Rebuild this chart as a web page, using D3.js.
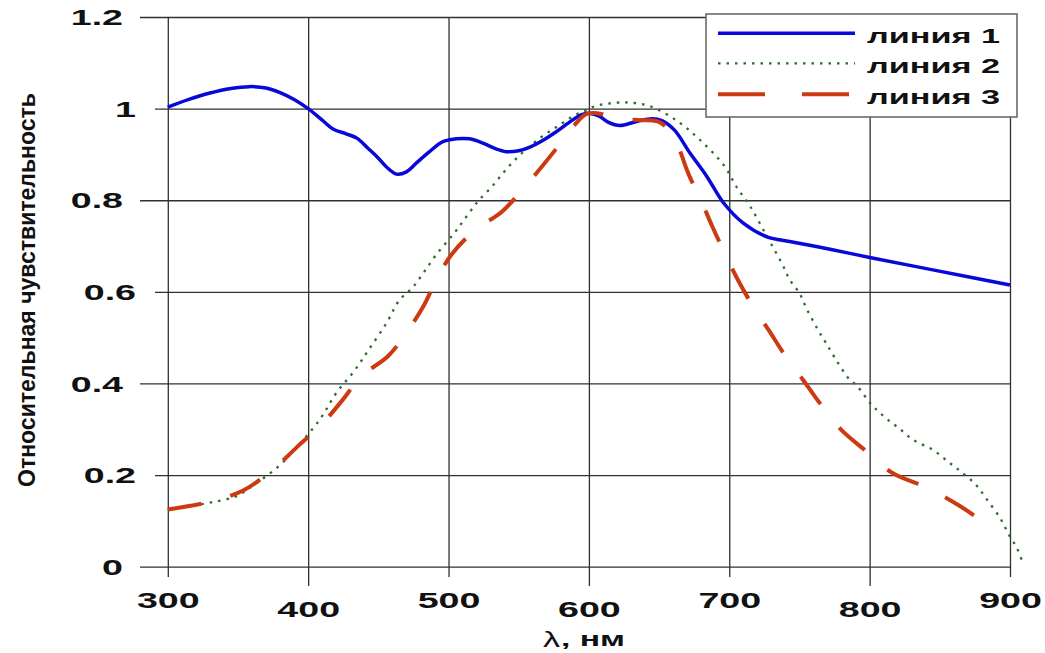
<!DOCTYPE html>
<html>
<head>
<meta charset="utf-8">
<script src="https://cdn.jsdelivr.net/npm/d3@7"></script>
<style>
  html, body { margin: 0; padding: 0; background: #fff; }
  svg { display: block; }
  text { font-family: "Liberation Sans", Arial, sans-serif; }
</style>
</head>
<body>
<svg id="chart" width="1045" height="653"></svg>
<script>
// Wavelength grid labels and sensitivity ticks
const xTicks = [300, 400, 500, 600, 700, 800, 900];
const yTicks = [0, 0.2, 0.4, 0.6, 0.8, 1, 1.2];
const yTickLabels = ["0", "0.2", "0.4", "0.6", "0.8", "1", "1.2"];

const seriesNames = ["линия 1", "линия 2", "линия 3"];

// линия 1
const line1Wl  = [300, 315, 330, 345, 358, 370, 380, 390, 400, 410, 418, 427, 435, 442, 449, 456, 463, 470, 477, 486, 496, 505, 515, 525, 533, 541, 550, 558, 568, 577, 586, 594, 600, 607, 614, 622, 634, 645, 652, 661, 672, 684, 696, 710, 727, 743, 762, 786, 800, 845, 900];
const line1Val = [1.003, 1.02, 1.034, 1.044, 1.048, 1.045, 1.035, 1.02, 1.0, 0.975, 0.955, 0.945, 0.935, 0.915, 0.895, 0.872, 0.857, 0.862, 0.881, 0.905, 0.928, 0.934, 0.934, 0.924, 0.913, 0.906, 0.908, 0.916, 0.932, 0.95, 0.97, 0.986, 0.99, 0.984, 0.97, 0.963, 0.972, 0.978, 0.974, 0.953, 0.903, 0.852, 0.794, 0.75, 0.72, 0.71, 0.699, 0.684, 0.675, 0.648, 0.615];

// линия 2
const line2Wl  = [300, 315, 330, 348, 363, 380, 389, 408, 420, 433, 443, 456, 465, 474, 482, 492, 504, 511, 518, 522, 531, 539, 547, 556, 567, 579, 590, 598, 605, 620, 629, 643, 662, 679, 696, 705, 715, 727, 738, 743, 750, 755, 763, 769, 775, 785, 791, 801, 811, 821, 831, 845, 856, 866, 876, 883, 893, 899, 905, 909];
const line2Val = [0.125, 0.132, 0.14, 0.153, 0.182, 0.222, 0.251, 0.32, 0.379, 0.428, 0.473, 0.533, 0.582, 0.608, 0.641, 0.684, 0.728, 0.757, 0.786, 0.801, 0.83, 0.86, 0.887, 0.913, 0.94, 0.964, 0.986, 0.996, 1.006, 1.013, 1.013, 1.006, 0.975, 0.932, 0.877, 0.83, 0.786, 0.72, 0.659, 0.627, 0.597, 0.564, 0.518, 0.488, 0.457, 0.411, 0.395, 0.355, 0.326, 0.302, 0.277, 0.255, 0.229, 0.205, 0.178, 0.149, 0.106, 0.071, 0.04, 0.009];

// линия 3
const line3Wl  = [300, 329, 354, 376, 392, 410, 424, 438, 457, 470, 482, 491, 502, 519, 538, 554, 568, 582, 590, 598, 606, 615, 623, 635, 649, 657, 664, 671, 680, 688, 697, 706, 717, 728, 740, 753, 766, 780, 798, 816, 842, 864, 887];
const line3Val = [0.125, 0.141, 0.167, 0.215, 0.261, 0.312, 0.362, 0.416, 0.46, 0.511, 0.568, 0.624, 0.681, 0.735, 0.775, 0.828, 0.879, 0.933, 0.965, 0.988, 0.99, 0.983, 0.977, 0.975, 0.972, 0.953, 0.914, 0.857, 0.799, 0.742, 0.683, 0.627, 0.568, 0.517, 0.46, 0.406, 0.351, 0.298, 0.251, 0.205, 0.171, 0.133, 0.085];

const svg = d3.select("#chart");
svg.append("rect").attr("width", 1045).attr("height", 653).attr("fill", "#fff");

const x = d3.scaleLinear().domain([300, 900]).range([167.8, 1010]);
const y = d3.scaleLinear().domain([0, 1.2]).range([566.7, 17]);

const gridColor = "#303030";
const stretch = 1.75;
const fontSize = 21.5;

// Vertical grid lines with staggered tick labels
function xAxisGroup(values, bottom) {
  const g = svg.append("g")
    .attr("transform", `translate(0,${bottom})`)
    .call(d3.axisBottom(x).tickValues(values).tickSize(-(bottom - y(1.2))).tickFormat(d3.format("d")));
  g.select(".domain").remove();
  g.selectAll(".tick line").attr("stroke", gridColor).attr("stroke-width", 1.3);
  g.selectAll(".tick text")
    .attr("y", 0).attr("dy", 0).attr("x", 0)
    .attr("transform", `translate(0,31) scale(${stretch},1)`)
    .attr("fill", "#111")
    .attr("font-size", fontSize).attr("font-weight", "bold")
    .attr("font-family", "Liberation Sans, Arial, sans-serif");
}
xAxisGroup(xTicks.filter((d, i) => i % 2 === 0), 577);
xAxisGroup(xTicks.filter((d, i) => i % 2 === 1), 586);

// Horizontal grid lines with staggered tick labels
function yAxisGroup(values, left, pad) {
  const g = svg.append("g")
    .attr("transform", `translate(${left},0)`)
    .call(d3.axisLeft(y).tickValues(values).tickSize(-(x(900) - left))
      .tickFormat(d => yTickLabels[yTicks.indexOf(d)]));
  g.select(".domain").remove();
  g.selectAll(".tick line").attr("stroke", gridColor).attr("stroke-width", 1.3);
  g.selectAll(".tick text")
    .attr("x", -pad / stretch).attr("dy", "0.36em")
    .attr("transform", `scale(${stretch},1)`)
    .attr("fill", "#111")
    .attr("font-size", fontSize).attr("font-weight", "bold")
    .attr("font-family", "Liberation Sans, Arial, sans-serif");
}
yAxisGroup([0, 0.4, 0.8, 1.2], 140, 17);
yAxisGroup([0.2, 0.6, 1], 155, 19);

// Curves
const lineGen = d3.line().x(d => x(d[0])).y(d => y(d[1])).curve(d3.curveCatmullRom.alpha(0.5));
const zip = (a, b) => a.map((v, i) => [v, b[i]]);

const styles = [
  { color: "#0808d8", width: 3.5, dash: null },
  { color: "#2b6e2b", width: 2.3, dash: "2.5,6" },
  { color: "#cc3a12", width: 4, dash: "34,30" }
];

svg.append("path").datum(zip(line2Wl, line2Val))
  .attr("d", lineGen).attr("fill", "none")
  .attr("stroke", styles[1].color).attr("stroke-width", styles[1].width)
  .attr("stroke-dasharray", styles[1].dash);

svg.append("path").datum(zip(line1Wl, line1Val))
  .attr("d", lineGen).attr("fill", "none")
  .attr("stroke", styles[0].color).attr("stroke-width", styles[0].width)
  .attr("stroke-linejoin", "round");

svg.append("path").datum(zip(line3Wl, line3Val))
  .attr("d", lineGen).attr("fill", "none")
  .attr("stroke", styles[2].color).attr("stroke-width", styles[2].width)
  .attr("stroke-dasharray", styles[2].dash);

// Legend
const legend = svg.append("g");
legend.append("rect")
  .attr("x", 706).attr("y", 14).attr("width", 311).attr("height", 103)
  .attr("fill", "#fff").attr("stroke", "#6a6a6a").attr("stroke-width", 1.6);
const legendRows = [33.3, 63.3, 94.3];
const legendDash = [null, "2.5,6", "47,37"];
seriesNames.forEach((name, i) => {
  legend.append("line")
    .attr("x1", 718).attr("x2", 855)
    .attr("y1", legendRows[i]).attr("y2", legendRows[i])
    .attr("stroke", styles[i].color).attr("stroke-width", styles[i].width)
    .attr("stroke-dasharray", legendDash[i]);
  legend.append("text")
    .attr("x", 867).attr("y", legendRows[i] + 9.6)
    .attr("font-size", 21).attr("font-weight", "bold").attr("fill", "#111")
    .attr("textLength", 133).attr("lengthAdjust", "spacingAndGlyphs")
    .text(name);
});

// Axis titles
svg.append("text")
  .attr("transform", "translate(35,290) rotate(-90)")
  .attr("text-anchor", "middle")
  .attr("font-size", 23).attr("font-weight", "bold").attr("fill", "#111")
  .attr("textLength", 394).attr("lengthAdjust", "spacingAndGlyphs")
  .text("Относительная чувствительность");

svg.append("text")
  .attr("x", 543).attr("y", 647)
  .attr("font-size", 22).attr("fill", "#111")
  .attr("textLength", 17).attr("lengthAdjust", "spacingAndGlyphs")
  .text("λ");
svg.append("text")
  .attr("x", 561).attr("y", 645.5)
  .attr("font-size", 20).attr("font-weight", "bold").attr("fill", "#111")
  .attr("textLength", 64).attr("lengthAdjust", "spacingAndGlyphs")
  .text(", нм");
</script>
</body>
</html>
